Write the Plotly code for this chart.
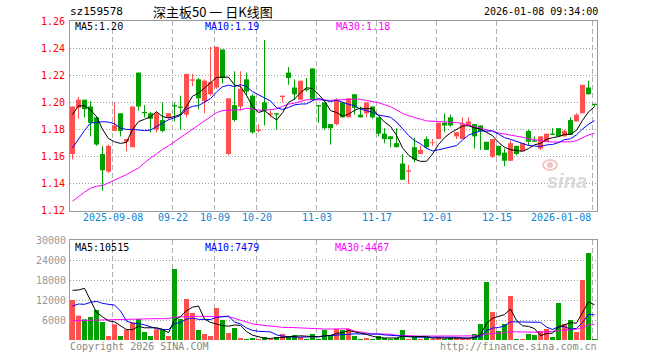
import plotly.graph_objects as go

# ---------------- data ----------------
opens = [1.162,1.196,1.202,1.197,1.189,1.162,1.149,1.179,1.192,1.171,
         1.167,1.222,1.193,1.192,1.180,1.187,1.189,1.198,1.197,1.191,
         1.216,1.217,1.201,1.206,1.211,1.239,1.162,1.198,1.197,1.217,
         1.205,1.179,1.200,1.191,1.192,1.204,1.222,1.211,1.202,1.210,
         1.225,1.198,1.200,1.184,1.184,1.200,1.189,1.206,1.191,1.192,
         1.197,1.189,1.177,1.175,1.170,1.155,1.149,1.167,1.162,1.173,
         1.170,1.173,1.185,1.189,1.175,1.173,1.183,1.184,1.183,1.171,
         1.160,1.168,1.163,1.157,1.168,1.164,1.179,1.172,1.166,1.171,
         1.177,1.181,1.175,1.187,1.186,1.192,1.211,1.199]
highs = [1.197,1.204,1.202,1.201,1.190,1.168,1.169,1.200,1.192,1.173,
         1.197,1.222,1.198,1.193,1.193,1.200,1.192,1.200,1.205,1.221,
         1.221,1.218,1.217,1.241,1.241,1.239,1.203,1.223,1.223,1.222,
         1.206,1.184,1.246,1.194,1.192,1.205,1.226,1.217,1.216,1.218,
         1.225,1.198,1.200,1.184,1.203,1.200,1.203,1.206,1.197,1.200,
         1.197,1.189,1.181,1.175,1.181,1.162,1.154,1.174,1.168,1.175,
         1.173,1.185,1.192,1.191,1.178,1.189,1.189,1.184,1.183,1.171,
         1.173,1.168,1.166,1.172,1.168,1.170,1.180,1.175,1.175,1.177,
         1.181,1.181,1.180,1.189,1.192,1.213,1.216,1.199]
lows = [1.158,1.188,1.189,1.175,1.168,1.135,1.148,1.179,1.175,1.164,
        1.167,1.194,1.189,1.178,1.178,1.178,1.188,1.186,1.180,1.189,
        1.212,1.195,1.192,1.205,1.210,1.214,1.161,1.186,1.194,1.205,
        1.177,1.178,1.183,1.189,1.180,1.200,1.213,1.202,1.202,1.208,
        1.201,1.185,1.180,1.169,1.183,1.189,1.189,1.191,1.189,1.189,
        1.188,1.175,1.170,1.167,1.167,1.143,1.140,1.156,1.162,1.166,
        1.168,1.173,1.178,1.182,1.173,1.173,1.183,1.166,1.165,1.165,
        1.159,1.161,1.153,1.157,1.161,1.164,1.168,1.171,1.165,1.171,
        1.176,1.175,1.175,1.176,1.186,1.192,1.206,1.197]
closes = [1.197,1.202,1.195,1.185,1.169,1.150,1.168,1.183,1.179,1.173,
          1.197,1.197,1.192,1.188,1.192,1.179,1.192,1.197,1.196,1.221,
          1.217,1.203,1.216,1.215,1.241,1.218,1.203,1.187,1.210,1.208,
          1.178,1.180,1.194,1.192,1.191,1.205,1.218,1.206,1.216,1.209,
          1.202,1.197,1.181,1.181,1.202,1.189,1.203,1.196,1.189,1.200,
          1.189,1.177,1.173,1.173,1.167,1.143,1.150,1.158,1.165,1.167,
          1.170,1.185,1.183,1.183,1.178,1.184,1.186,1.175,1.179,1.165,
          1.173,1.161,1.157,1.170,1.162,1.170,1.171,1.171,1.175,1.177,
          1.176,1.175,1.179,1.176,1.191,1.213,1.206,1.198]
volumes = [12000,7300,6200,6900,9000,5400,1200,4700,1200,3100,
           5300,6300,2400,1200,3200,3000,1200,21300,6300,12300,
           8100,3000,1800,1200,9600,6000,2100,3600,600,300,
           600,300,900,300,900,1800,1200,1500,900,300,
           1800,300,3000,1500,3300,3000,3300,1200,300,600,
           300,1200,600,300,600,3000,300,900,300,900,
           300,900,300,600,600,600,300,1800,4800,17400,
           8400,2700,4800,13200,300,300,1800,1500,2700,3300,
           900,11100,4800,6000,2400,18000,26100,300]

# moving-average values before a full window exists
ma5_head = [1.191, 1.1975, 1.1975, 1.1945]
ma10_head = [1.1664, 1.173, 1.1794, 1.1848, 1.1855, 1.1858, 1.1855, 1.1843, 1.1811]
ma30_head = [1.1272, 1.1309, 1.1339, 1.1368, 1.1383, 1.1387, 1.1407, 1.1432, 1.1449, 1.1468,
             1.1493, 1.1517, 1.1554, 1.1591, 1.162, 1.1655, 1.168, 1.171, 1.174, 1.177,
             1.180, 1.183, 1.186, 1.189, 1.1925, 1.194, 1.1945, 1.1945, 1.1945]
vma5_head = [14900, 15000, 15500, 11800]
vma10_head = [10200, 10800, 10700, 11300, 11600, 11000, 10700, 10500, 8700]
vma30_head = [5800, 5850, 5900, 5950, 6000, 6050, 6100, 6150, 6200, 6250,
              6400, 6400, 6400, 6400, 6400, 6400, 6400, 6900, 7000, 7100,
              7100, 7100, 7100, 7100, 7100, 7050, 7000, 6500, 5900]

date_labels = ["2025-09-08", "09-22", "10-09", "10-20", "11-03", "11-17", "12-01", "12-15", "2026-01-08"]
date_index = [7, 17, 24, 31, 41, 51, 61, 71, 87]
price_ticks = [1.26, 1.24, 1.22, 1.20, 1.18, 1.16, 1.14, 1.12]
vol_ticks = [30000, 24000, 18000, 12000, 6000]

code_text = "sz159578"
title_text = "深主板50 一 日K线图"
time_text = "2026-01-08 09:34:00"
price_ma_text = ["MA5:1.20", "MA10:1.19", "MA30:1.18"]
vol_ma_text = ["MA5:10515", "MA10:7479", "MA30:4467"]

# ---------------- helpers ----------------
W, H = 660, 360
def px(p): return p / W
def py(p): return 1 - p / H

def rolling(vals, w, head):
    out = list(head)
    for i in range(len(head), len(vals)):
        out.append(sum(vals[i - w + 1:i + 1]) / w)
    return out

n = len(closes)
idx = list(range(n))
RED = "#ff5050"
GREEN = "#00a000"
MONO = "DejaVu Sans Mono"

up = [c >= o for o, c in zip(opens, closes)]
colors = [RED if u else GREEN for u in up]

fig = go.Figure()

# wicks
for col, flag in ((RED, True), (GREEN, False)):
    xs, ys = [], []
    for i in idx:
        if up[i] == flag:
            xs += [i, i, None]
            ys += [lows[i], highs[i], None]
    fig.add_trace(go.Scatter(x=xs, y=ys, mode="lines", line=dict(color=col, width=1),
                             hoverinfo="skip", xaxis="x", yaxis="y"))

# bodies
base = [min(o, c) for o, c in zip(opens, closes)]
height = [max(abs(c - o), 0.0006) for o, c in zip(opens, closes)]
fig.add_trace(go.Bar(x=idx, y=height, base=base, width=5 / 6, marker=dict(color=colors, line=dict(width=0)),
                     xaxis="x", yaxis="y"))

# price MAs
for vals, col in ((rolling(closes, 30, ma30_head), "#ff00ff"),
                  (rolling(closes, 10, ma10_head), "#0000ff"),
                  (rolling(closes, 5, ma5_head), "#000000")):
    fig.add_trace(go.Scatter(x=idx, y=vals, mode="lines", line=dict(color=col, width=1),
                             xaxis="x", yaxis="y"))

# volume
fig.add_trace(go.Bar(x=idx, y=volumes, width=5 / 6, marker=dict(color=colors, line=dict(width=0)),
                     xaxis="x2", yaxis="y2"))
for vals, col in ((rolling(volumes, 30, vma30_head), "#ff00ff"),
                  (rolling(volumes, 10, vma10_head), "#0000ff"),
                  (rolling(volumes, 5, vma5_head), "#000000")):
    fig.add_trace(go.Scatter(x=idx, y=vals, mode="lines", line=dict(color=col, width=1),
                             xaxis="x2", yaxis="y2"))

grid_x = [i - 1 / 3 for i in date_index]
xr = [-5 / 12, n - 1 + 5 / 12]
xdom = [px(70), px(597)]

common_x = dict(domain=xdom, range=xr, tickvals=grid_x, showticklabels=False, ticks="",
                showgrid=True, gridcolor="#b0b0b0", griddash="5px,3px", gridwidth=1, zeroline=False)
fig.update_layout(
    width=W, height=H, margin=dict(l=0, r=0, t=0, b=0),
    paper_bgcolor="white", plot_bgcolor="white", showlegend=False, barmode="overlay",
    hovermode=False,
    xaxis=dict(anchor="y", showline=True, mirror=True, linecolor="#999999", linewidth=1, **common_x),
    yaxis=dict(domain=[py(211), py(21)], range=[1.12, 1.26], tickvals=price_ticks,
               showticklabels=False, ticks="", showgrid=True, gridcolor="#a0a0a0",
               griddash="1px,2px", zeroline=False, showline=True, mirror=True, linecolor="#999999"),
    xaxis2=dict(anchor="y2", side="top", showline=True, mirror=False, linecolor="#999999", linewidth=1,
                **common_x),
    yaxis2=dict(domain=[py(340), py(240)], range=[0, 30000], tickvals=vol_ticks,
                showticklabels=False, ticks="", showgrid=True, gridcolor="#a0a0a0",
                griddash="1px,2px", zeroline=False, showline=True, mirror=True, linecolor="#999999"),
)

ann = []
def text(x, y, s, color="#000000", anchor="left", size=10, family=MONO, xref="paper"):
    ann.append(dict(x=x, y=py(y), xref=xref, yref="paper", text=s, showarrow=False, borderpad=0,
                    xanchor=anchor, yanchor="middle", font=dict(family=family, size=size, color=color)))

text(px(69), 12, code_text, size=11)
text(px(213), 11, title_text, anchor="center", size=13, family="Noto Sans CJK SC")
text(px(599), 12, time_text, anchor="right", size=10)

for s, x, col in zip(price_ma_text, (74, 204, 335), ("#000000", "#0000ff", "#ff00ff")):
    text(px(x), 27, s, col, size=10)
for s, x, col in zip(vol_ma_text, (74, 204, 334), ("#000000", "#0000ff", "#ff00ff")):
    text(px(x), 247, s, col, size=10)

for v in price_ticks:
    y = 21 + (1.26 - v) / 0.14 * 190
    text(px(66), y, f"{v:.2f}", "#ff0000", anchor="right", size=10)
for v in vol_ticks:
    y = 240 + (30000 - v) / 30000 * 100
    text(px(67), y, str(v), "#999999", anchor="right", size=10)

for lab, gx in zip(date_labels, grid_x):
    if lab == date_labels[-1]:
        text(px(592), 218, lab, "#0a84d6", anchor="right", size=10)
    else:
        text(gx, 218, lab, "#0a84d6", anchor="center", size=10, xref="x")

text(px(69), 346, "Copyright 2026 SINA.COM", "#888888", size=10)
text(px(598), 346, "http://finance.sina.com.cn", "#888888", anchor="right", size=10)
text(px(567), 181, "<i><b>sina</b></i>", "#d9d9d9", anchor="center", size=20, family="Liberation Sans")

fig.update_layout(annotations=ann)
fig.add_shape(type="circle", xref="paper", yref="paper", x0=px(543), x1=px(557), y0=py(170), y1=py(160),
              line=dict(color="#f3c4c4", width=2), fillcolor="rgba(0,0,0,0)")
fig.add_shape(type="circle", xref="paper", yref="paper", x0=px(547), x1=px(553), y0=py(168), y1=py(162),
              line=dict(width=0), fillcolor="#f3c4c4")

fig.write_html("out.html", config={"displayModeBar": False, "staticPlot": True},
               post_script="document.body.style.margin='0';document.body.style.padding='0';")
